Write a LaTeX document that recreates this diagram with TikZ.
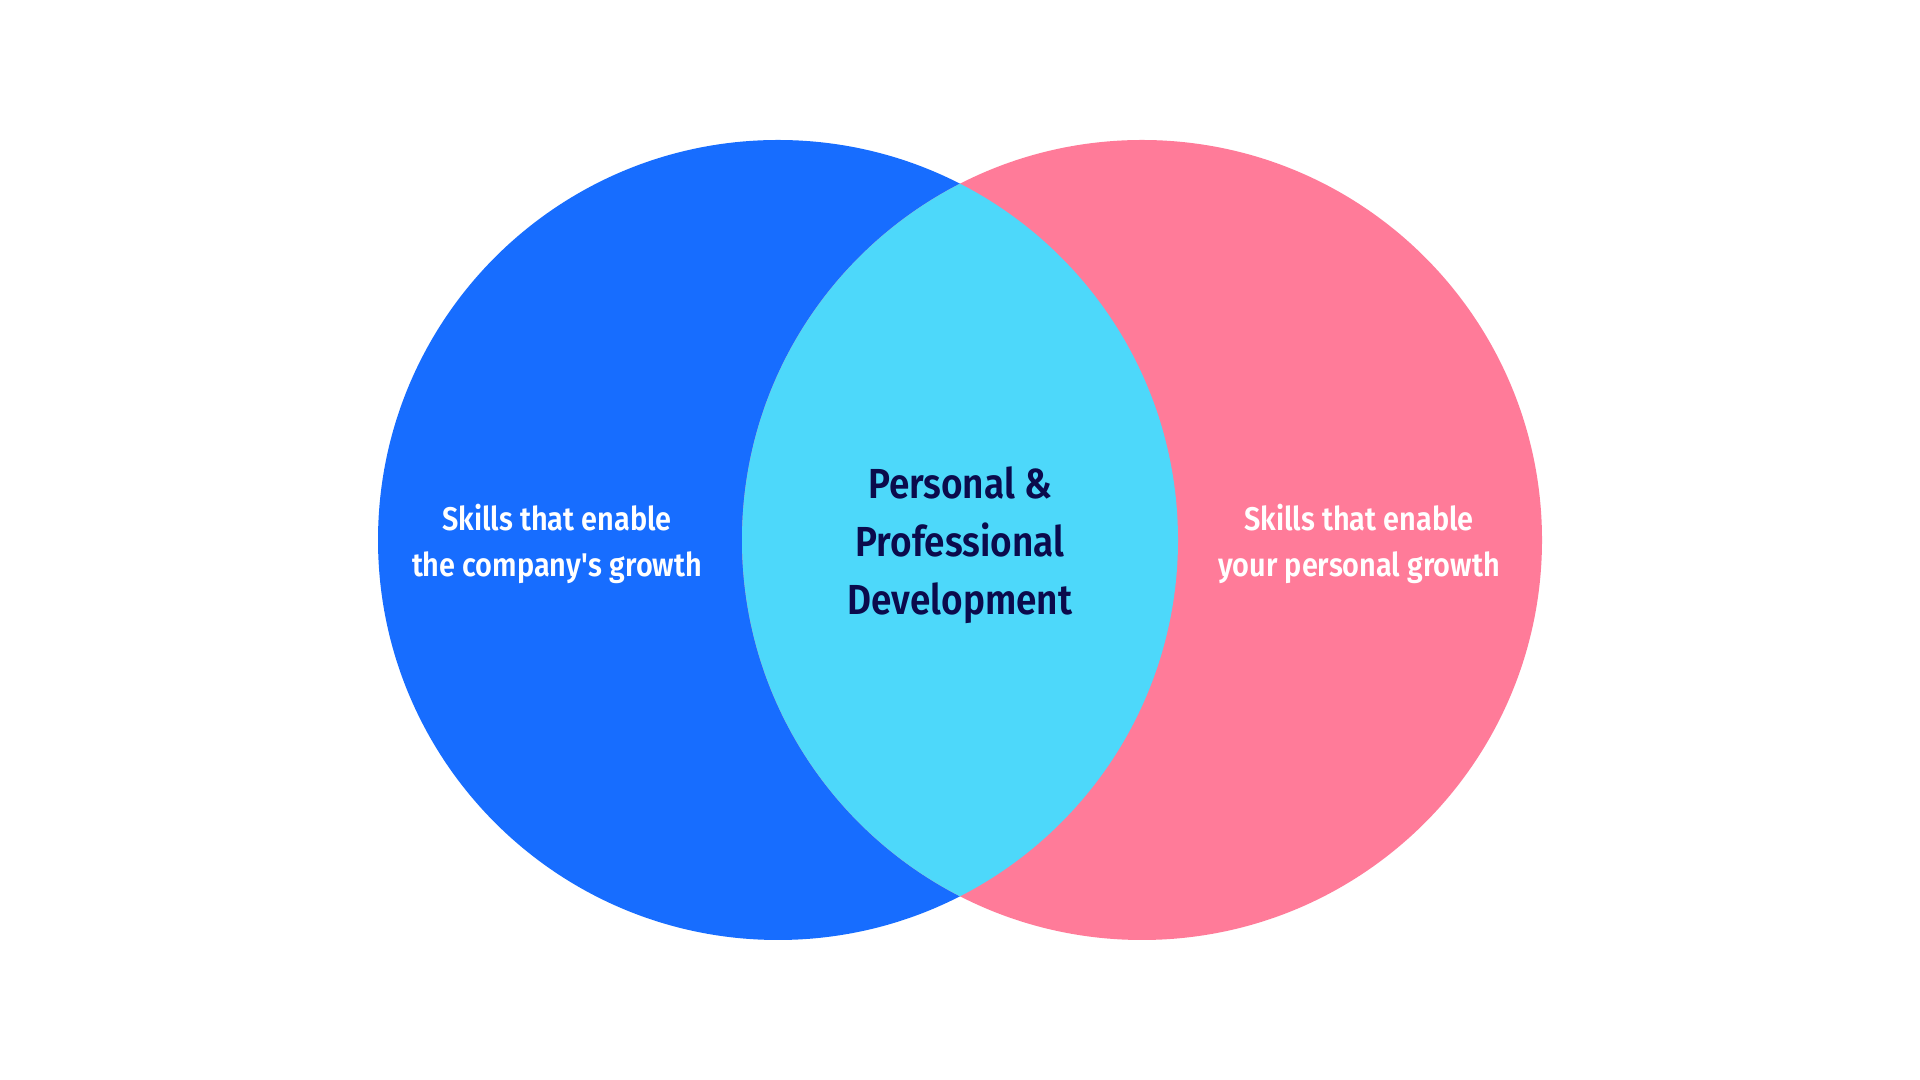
\documentclass[tikz,border=0pt]{standalone}
\usepackage{fontspec}
\setmainfont{Fira Sans}[BoldFont={Fira Sans SemiBold},FakeStretch=0.88]
\usepackage{tikz}
\usetikzlibrary{positioning}
\definecolor{companyblue}{HTML}{176DFF}
\definecolor{personalpink}{HTML}{FF7B99}
\definecolor{overlapcyan}{HTML}{4DD8FA}
\definecolor{titlenavy}{HTML}{0B0B4C}
\tikzstyle{sidetext} = [draw=none, fill=none, text centered, align=center, text=white, font=\bfseries\fontsize{16.4}{23.3}\selectfont]
\tikzstyle{maintext} = [draw=none, fill=none, text centered, align=center, text=titlenavy, font=\bfseries\fontsize{21}{29}\selectfont]

\begin{document}
\begin{tikzpicture}[x=0.5pt, y=0.5pt]
	% page frame
	\useasboundingbox (0,0) rectangle (1920,1080);
	\coordinate (C1) at (778,540);
	\coordinate (C2) at (1142,540);

	% draw circles
	\fill [companyblue] (C1) circle [radius=400];
	\fill [personalpink] (C2) circle [radius=400];
	\begin{scope}
		\clip (C1) circle [radius=400];
		\fill [overlapcyan] (C2) circle [radius=400];
	\end{scope}

	% place nodes
	\node [maintext]                  (N0) at (960,535) {Personal \&\\Professional\\Development};
	\node [sidetext]                  (N1) at (557,536) {Skills that enable\\the company\textquotesingle s growth};
	\node [sidetext]                  (N2) at (1359,536) {Skills that enable\\your personal growth};
\end{tikzpicture}
\end{document}
